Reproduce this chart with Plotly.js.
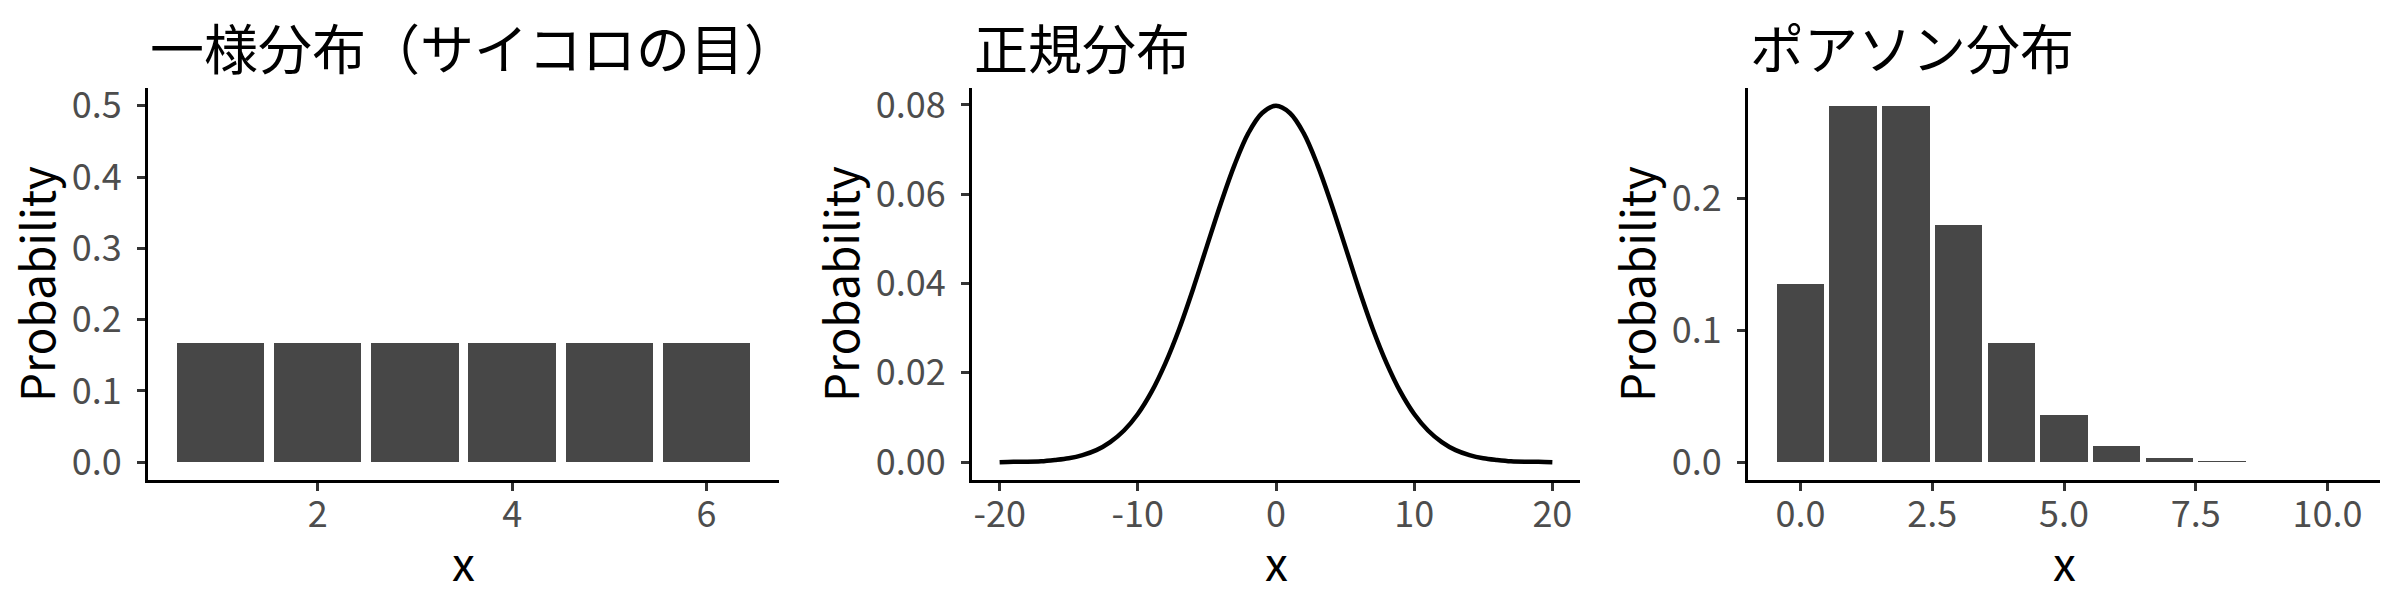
<!DOCTYPE html>
<html>
<head>
<meta charset="utf-8">
<script src="https://cdn.plot.ly/plotly-3.0.1.min.js"></script>
<style>html,body{margin:0;padding:0;background:#fff;}#chart{width:2400px;height:600px;}</style>
</head>
<body>
<div id="chart"></div>
<script>
// ---- data ----
const titles = ["一様分布（サイコロの目）", "正規分布", "ポアソン分布"];
const diceX = [1, 2, 3, 4, 5, 6];
const diceP = [0.1667, 0.1667, 0.1667, 0.1667, 0.1667, 0.1667];
const normX = [-20,-19,-18,-17,-16,-15,-14,-13,-12,-11,-10,-9,-8,-7,-6,-5,-4,-3,-2,-1,0,1,2,3,4,5,6,7,8,9,10,11,12,13,14,15,16,17,18,19,20];
const normP = [0.0000,0.0001,0.0001,0.0002,0.0005,0.0009,0.0016,0.0027,0.0045,0.0071,0.0108,0.0158,0.0222,0.0299,0.0388,0.0484,0.0579,0.0666,0.0737,0.0782,0.0798,0.0782,0.0737,0.0666,0.0579,0.0484,0.0388,0.0299,0.0222,0.0158,0.0108,0.0071,0.0045,0.0027,0.0016,0.0009,0.0005,0.0002,0.0001,0.0001,0.0000];
const poisX = [0, 1, 2, 3, 4, 5, 6, 7, 8, 9, 10];
const poisP = [0.1353, 0.2707, 0.2707, 0.1804, 0.0902, 0.0361, 0.0120, 0.0034, 0.0009, 0.0002, 0.00004];
const diceTickVals = [2, 4, 6];
const diceTickText = ["2", "4", "6"];
const normTickVals = [-20, -10, 0, 10, 20];
const normTickText = ["-20", "-10", "0", "10", "20"];
const poisTickVals = [0, 2.5, 5, 7.5, 10];
const poisTickText = ["0.0", "2.5", "5.0", "7.5", "10.0"];
const yTicks1 = [0, 0.1, 0.2, 0.3, 0.4, 0.5];
const yTicks1Text = ["0.0", "0.1", "0.2", "0.3", "0.4", "0.5"];
const yTicks2 = [0, 0.02, 0.04, 0.06, 0.08];
const yTicks2Text = ["0.00", "0.02", "0.04", "0.06", "0.08"];
const yTicks3 = [0, 0.1, 0.2];
const yTicks3Text = ["0.0", "0.1", "0.2"];
const xLabel = "x";
const yLabel = "Probability";

// ---- style ----
const FONT = '"Noto Sans CJK JP", "Noto Sans", sans-serif';
const BAR = '#474747';
const W = 2400;
const px = v => v / W;
const yDom = [1 - 480/600, 1 - 88/600];

const traces = [
  {type:'bar', x: diceX, y: diceP, width: 0.9, marker:{color:BAR, line:{width:0}}, xaxis:'x', yaxis:'y'},
  {type:'scatter', mode:'lines', x: normX, y: normP, line:{color:'#000', width:4.5, shape:'spline', smoothing:1}, xaxis:'x2', yaxis:'y2'},
  {type:'bar', x: poisX, y: poisP, width: 0.9, marker:{color:BAR, line:{width:0}}, xaxis:'x3', yaxis:'y3'}
];

function xa(domain, range, tv, tt, anchor) {
  return {
    domain: domain, range: range, anchor: anchor,
    tickmode:'array', tickvals: tv, ticktext: tt,
    showline:true, linecolor:'#000', linewidth:3, mirror:false,
    ticks:'outside', ticklen:8, tickwidth:3, tickcolor:'#333',
    showgrid:false, zeroline:false, ticklabelstandoff: -7,
    tickfont:{family:FONT, size:36, color:'#4d4d4d'},
    automargin:false, fixedrange:true
  };
}
function ya(range, tv, tt, anchor) {
  return {
    domain: yDom, range: range, anchor: anchor,
    tickmode:'array', tickvals: tv, ticktext: tt,
    showline:true, linecolor:'#000', linewidth:3, mirror:false,
    ticks:'outside', ticklen:8, tickwidth:3, tickcolor:'#333',
    showgrid:false, zeroline:false, ticklabelstandoff: 8,
    tickfont:{family:FONT, size:36, color:'#4d4d4d'},
    title:{text:yLabel, font:{family:FONT, size:46, color:'#000'}, standoff: 2},
    automargin:false, fixedrange:true
  };
}

const d1 = [px(148), px(779)], d2 = [px(972), px(1580)], d3 = [px(1748), px(2380)];
const mid = d => (d[0] + d[1]) / 2;

const titleAnns = [d1, d2, d3].map((d, i) => ({
  text: titles[i], x: d[0], y: 1 - 46/600, xref:'paper', yref:'paper',
  xanchor:'left', yanchor:'middle', showarrow:false,
  font:{family:FONT, size:54, color:'#000'}
}));
const xTitleAnns = [d1, d2, d3].map(d => ({
  text: xLabel, x: mid(d), y: 1 - 561/600, xref:'paper', yref:'paper',
  xanchor:'center', yanchor:'middle', showarrow:false,
  font:{family:FONT, size:46, color:'#000'}
}));

const layout = {
  width: 2400, height: 600,
  margin:{l:0, r:0, t:0, b:0},
  paper_bgcolor:'#fff', plot_bgcolor:'#fff',
  showlegend:false, bargap:0,
  xaxis:  xa(d1, [0.255, 6.745], diceTickVals, diceTickText, 'y'),
  yaxis:  ya([-0.025, 0.525], yTicks1, yTicks1Text, 'x'),
  xaxis2: xa(d2, [-22, 22], normTickVals, normTickText, 'y2'),
  yaxis2: ya([-0.00399, 0.0838], yTicks2, yTicks2Text, 'x2'),
  xaxis3: xa(d3, [-0.995, 10.995], poisTickVals, poisTickText, 'y3'),
  yaxis3: ya([-0.0135, 0.2842], yTicks3, yTicks3Text, 'x3'),
  annotations: titleAnns.concat(xTitleAnns)
};

Plotly.newPlot('chart', traces, layout, {displayModeBar:false, staticPlot:true});
</script>
</body>
</html>
